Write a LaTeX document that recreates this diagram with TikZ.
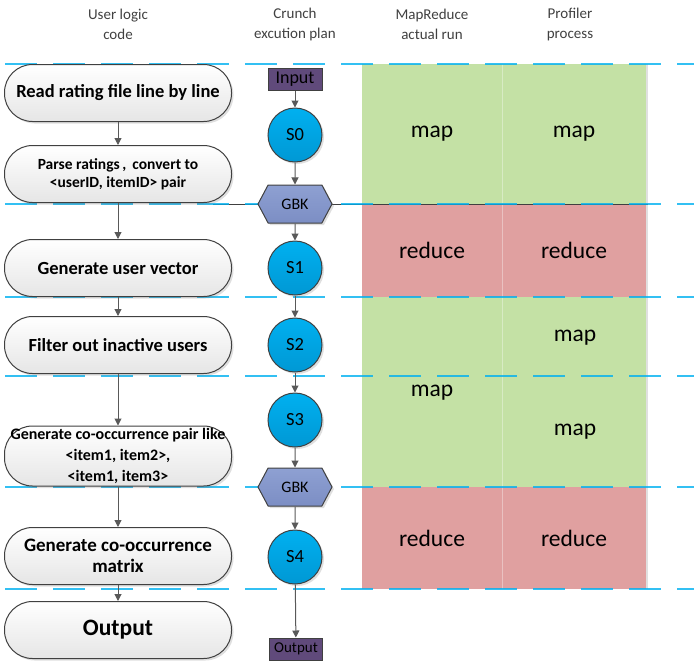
\documentclass[tikz,border=0pt]{standalone}
\usepackage{fontspec}
\setmainfont{Carlito}
\usetikzlibrary{positioning,backgrounds,shapes.symbols,shadows,arrows.meta}
\definecolor{stepColor}{RGB}{0,176,240}
\definecolor{stepDark}{RGB}{0,152,212}
\definecolor{ioColor}{RGB}{96,74,123}
\definecolor{gbkColor}{RGB}{142,160,210}
\definecolor{gbkDark}{RGB}{124,142,196}
\definecolor{mapColor}{RGB}{196,225,165}
\definecolor{reduceColor}{RGB}{224,160,160}
\definecolor{splitColor}{RGB}{0,176,240}
\definecolor{edgeColor}{RGB}{64,64,64}
\definecolor{arrowColor}{RGB}{89,89,89}
\definecolor{headColor}{RGB}{64,64,64}

\begin{document}
\begin{tikzpicture}[x=1pt,y=-1pt,
headlabel/.style={
    text=headColor, align=center, font=\fontsize{15}{20}\selectfont},
logicbox/.style={
    draw=edgeColor, line width=1pt, rounded corners=28pt,
    minimum width=227pt, minimum height=57pt, inner sep=1pt,
    top color=white, bottom color=black!10,
    drop shadow={opacity=0.25, shadow xshift=2pt, shadow yshift=-2pt},
    align=center},
stepball/.style={
    circle, draw=edgeColor, line width=1pt, minimum size=54pt,
    inner sep=0pt, top color=stepColor, bottom color=stepDark,
    drop shadow={opacity=0.25, shadow xshift=2pt, shadow yshift=-2pt},
    font=\fontsize{18.5}{20}\selectfont},
gbkbox/.style={
    signal, signal to=east and west, signal pointer angle=124,
    draw=edgeColor, line width=1pt, minimum width=74pt,
    minimum height=38pt, inner sep=0pt,
    top color=gbkColor, bottom color=gbkDark,
    drop shadow={opacity=0.25, shadow xshift=2pt, shadow yshift=-2pt},
    font=\fontsize{16}{18}\selectfont},
iobox/.style={
    draw=edgeColor, line width=1pt, fill=ioColor, inner sep=0pt,
    minimum height=22pt},
phaselabel/.style={
    font=\fontsize{23.5}{26}\selectfont},
splitline/.style={
    splitColor, line width=1.5pt, dash pattern=on 32pt off 16pt},
flow/.style={
    arrowColor, line width=1pt, -{Triangle[length=7pt,width=7pt]}}
]

\useasboundingbox (0,0) rectangle (694,667);

% column headers
\node[headlabel] (headLogic) at (118,24) {User logic\\code};
\node[headlabel] (headPlan) at (295,24) {Crunch\\excution plan};
\node[headlabel] (headRun) at (432,24) {MapReduce\\actual run};
\node[headlabel] (headProf) at (570,24) {Profiler\\process};

% user logic
\node[logicbox, font=\bfseries\fontsize{18.5}{20}\selectfont]
                                    (readFile) at (118,93)
        {Read rating file line by line};
\node[logicbox, font=\bfseries\fontsize{15.5}{18}\selectfont]
                                    (parseRat) at (118,174)
        {Parse ratings\,,\, convert to\\<userID, itemID> pair};
\node[logicbox, font=\bfseries\fontsize{18.5}{20}\selectfont]
                                    (userVec) at (118,268)
        {Generate user vector};
\node[logicbox, font=\bfseries\fontsize{18.5}{20}\selectfont]
                                    (filterUsr) at (118,345)
        {Filter out inactive users};
\node[logicbox, minimum height=60pt, inner sep=0pt,
      font=\bfseries\fontsize{16}{21}\selectfont]
                                    (coPair) at (118,456)
        {Generate co-occurrence pair like\\<item1, item2>,\\<item1, item3>};
\node[logicbox, font=\bfseries\fontsize{19}{21}\selectfont]
                                    (coMatrix) at (118,556)
        {Generate co-occurrence\\matrix};
\node[logicbox, font=\bfseries\fontsize{23.5}{25}\selectfont]
                                    (outLogic) at (118,630)
        {Output};

% crunch plan
\node[iobox, minimum width=54pt, font=\fontsize{18}{20}\selectfont]
                                    (inPlan) at (295,79) {Input};
\node[stepball] (stepS0) at (295,135) {S0};
\node[gbkbox] (gbkA) at (295,204) {GBK};
\node[stepball] (stepS1) at (295,268) {S1};
\node[stepball] (stepS2) at (295,345) {S2};
\node[stepball] (stepS3) at (295,420) {S3};
\node[gbkbox] (gbkB) at (295,487) {GBK};
\node[stepball] (stepS4) at (295,557) {S4};
\node[iobox, minimum width=53pt, font=\fontsize{15}{17}\selectfont]
                                    (outPlan) at (296,649) {Output};

% map and reduce phases
\node[phaselabel] (mapRunA) at (432,134) {map};
\node[phaselabel] (mapProfA) at (574,134) {map};
\node[phaselabel] (redRunA) at (432,250) {reduce};
\node[phaselabel] (redProfA) at (574,250) {reduce};
\node[phaselabel] (mapRunB) at (432,393) {map};
\node[phaselabel] (mapProfB) at (575,338) {map};
\node[phaselabel] (mapProfC) at (575,432) {map};
\node[phaselabel] (redRunB) at (432,538) {reduce};
\node[phaselabel] (redProfB) at (574,538) {reduce};

\foreach \from/\to in {readFile/parseRat, parseRat/userVec, userVec/filterUsr,
                       filterUsr/coPair, coPair/coMatrix, coMatrix/outLogic,
                       inPlan/stepS0, stepS0/gbkA, gbkA/stepS1, stepS1/stepS2,
                       stepS2/stepS3, stepS3/gbkB, gbkB/stepS4, stepS4/outPlan}
    \draw [flow] (\from)--(\to);

\begin{scope}[on background layer]
    \fill[mapColor] (362,64) rectangle (646,204);
    \fill[reduceColor] (362,204) rectangle (646,297);
    \fill[mapColor] (362,297) rectangle (646,487);
    \fill[reduceColor] (362,487) rectangle (646,589);
    \draw[white, opacity=0.35] (502,64)--(502,589);
    \draw[black!12, line width=1.5pt] (647,64)--(647,589);
    \draw[edgeColor, line width=1pt] (213,204)--(648,204);
    \foreach \y in {64,204,297,376,487,589}
        \draw[splitline, opacity=0.8] (5,\y)--(694,\y);
\end{scope}

\end{tikzpicture}
\end{document}
